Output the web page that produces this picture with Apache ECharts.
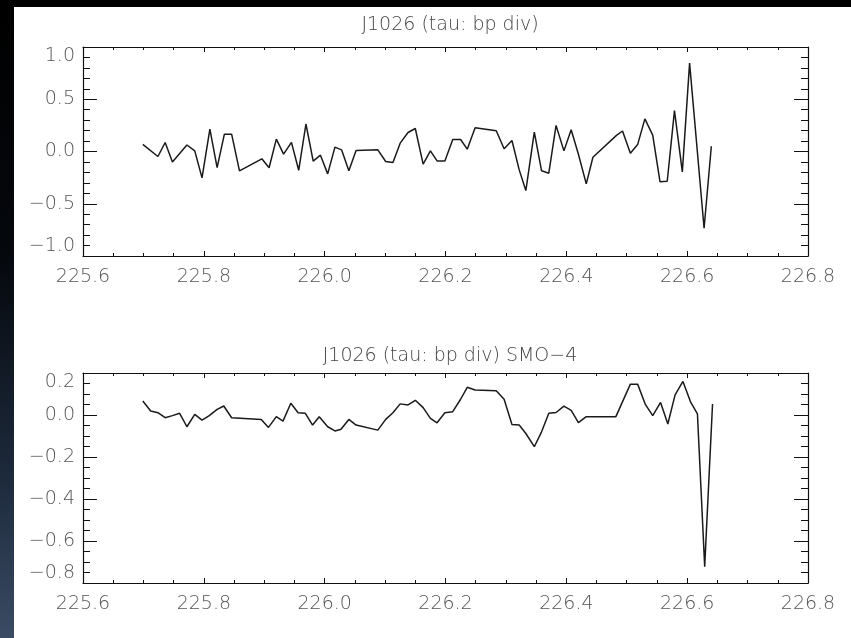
<!DOCTYPE html>
<html>
<head>
<meta charset="utf-8">
<script src="https://cdn.jsdelivr.net/npm/echarts@6/dist/echarts.min.js"></script>
<style>
  html, body { margin: 0; padding: 0; background: #000; }
  #strip { position: absolute; left: 0; top: 0; width: 14px; height: 638px;
           background: linear-gradient(to bottom, #000 0%, #05080d 40%, #1d2a3c 75%, #3a4b63 100%); }
  #paper { position: absolute; left: 14px; top: 7px; width: 837px; height: 631px; background: #fff; }
  #chart { position: absolute; left: 0; top: 0; width: 851px; height: 638px; }
</style>
</head>
<body>
<div id="strip"></div>
<div id="paper"></div>
<div id="chart"></div>
<script>
// tau: bp div (raw)
const rawX = [225.699, 225.724, 225.736, 225.748, 225.772, 225.785, 225.797, 225.810, 225.822, 225.834,
  225.846, 225.859, 225.896, 225.908, 225.920, 225.932, 225.945, 225.957, 225.969, 225.981,
  225.993, 226.005, 226.017, 226.028, 226.040, 226.052, 226.088, 226.101, 226.113, 226.125,
  226.138, 226.150, 226.163, 226.175, 226.186, 226.199, 226.212, 226.225, 226.236, 226.249,
  226.284, 226.297, 226.310, 226.322, 226.333, 226.347, 226.359, 226.371, 226.383, 226.396,
  226.408, 226.420, 226.433, 226.444, 226.483, 226.493, 226.506, 226.518, 226.530, 226.543,
  226.555, 226.567, 226.579, 226.592, 226.604, 226.628, 226.640]
const rawY = [0.068, -0.048, 0.086, -0.100, 0.062, 0.006, -0.252, 0.215, -0.155, 0.166,
  0.166, -0.186, -0.070, -0.155, 0.119, -0.025, 0.087, -0.180, 0.263, -0.092,
  -0.035, -0.214, 0.042, 0.016, -0.185, 0.010, 0.016, -0.096, -0.105, 0.080,
  0.182, 0.220, -0.120, 0.006, -0.090, -0.090, 0.115, 0.115, 0.022, 0.227,
  0.198, 0.026, 0.105, -0.176, -0.374, 0.185, -0.185, -0.208, 0.250, 0.006,
  0.208, -0.026, -0.310, -0.055, 0.154, 0.196, -0.016, 0.066, 0.312, 0.157,
  -0.289, -0.285, 0.391, -0.195, 0.846, -0.735, 0.050]

// SMO-4 smoothed
const smoX = [225.699, 225.712, 225.724, 225.736, 225.748, 225.760, 225.772, 225.785, 225.797, 225.809,
  225.822, 225.833, 225.846, 225.895, 225.907, 225.920, 225.931, 225.944, 225.956, 225.968,
  225.980, 225.991, 226.005, 226.017, 226.027, 226.040, 226.052, 226.088, 226.101, 226.113,
  226.125, 226.138, 226.150, 226.163, 226.175, 226.186, 226.199, 226.212, 226.225, 226.236,
  226.249, 226.284, 226.297, 226.310, 226.322, 226.333, 226.347, 226.359, 226.371, 226.383,
  226.396, 226.408, 226.420, 226.433, 226.482, 226.506, 226.518, 226.531, 226.543, 226.556,
  226.568, 226.580, 226.593, 226.606, 226.617, 226.629, 226.642]
const smoY = [0.067, 0.019, 0.011, -0.013, -0.003, 0.008, -0.056, 0.003, -0.024, -0.003,
  0.027, 0.043, -0.013, -0.021, -0.059, -0.008, -0.029, 0.056, 0.011, 0.008,
  -0.048, -0.008, -0.056, -0.076, -0.068, -0.021, -0.048, -0.072, -0.021, 0.011,
  0.053, 0.048, 0.070, 0.035, -0.016, -0.037, 0.011, 0.016, 0.075, 0.132,
  0.119, 0.116, 0.075, -0.045, -0.048, -0.088, -0.151, -0.080, 0.008, 0.012,
  0.042, 0.022, -0.036, -0.008, -0.008, 0.147, 0.147, 0.049, -0.003, 0.060,
  -0.043, 0.096, 0.160, 0.060, 0.005, -0.722, 0.052]

const titles = ['J1026 (tau: bp div)', 'J1026 (tau: bp div) SMO\u22124']
const xRange = [225.6, 226.8]
const yRanges = [[-1, 1], [-0.8, 0.2]]
const yIntervals = [0.5, 0.2]
const yMinorSplits = [5, 4]

const chart = echarts.init(document.getElementById('chart'))

const FONT = 'DejaVu Sans'
const fmt = v => v.toFixed(1).replace('-', '\u2212')
const axisLine = { show: true, onZero: false, lineStyle: { color: '#111', width: 1.2 } }

const xAxes = []
const yAxes = []
for (let g = 0; g < 2; g++) {
  for (const pos of ['bottom', 'top']) {
    xAxes.push({
      type: 'value', gridIndex: g, position: pos,
      min: xRange[0], max: xRange[1], interval: 0.2,
      axisLine,
      axisTick: { show: true, inside: true, length: 5, lineStyle: { color: '#111' } },
      minorTick: { show: true, splitNumber: 4, length: 3, lineStyle: { color: '#111' } },
      axisLabel: {
        show: pos === 'bottom', formatter: fmt, margin: 12,
        color: '#555', fontFamily: FONT, fontSize: 19, fontWeight: 200
      },
      splitLine: { show: false }
    })
  }
  for (const pos of ['left', 'right']) {
    yAxes.push({
      type: 'value', gridIndex: g, position: pos,
      min: yRanges[g][0], max: yRanges[g][1], interval: yIntervals[g],
      axisLine,
      axisTick: { show: true, inside: true, length: 14, lineStyle: { color: '#111' } },
      minorTick: { show: true, splitNumber: yMinorSplits[g], length: 7, lineStyle: { color: '#111' } },
      axisLabel: {
        show: pos === 'left', formatter: fmt, margin: 8,
        color: '#555', fontFamily: FONT, fontSize: 19, fontWeight: 200,
        verticalAlignMinLabel: 'bottom', verticalAlignMaxLabel: 'top'
      },
      splitLine: { show: false }
    })
  }
}

const toPairs = (xs, ys) => xs.map((x, i) => [x, ys[i]])

chart.setOption({
  animation: false,
  title: [
    { text: titles[0], left: 445, top: 11, textAlign: 'center',
      textStyle: { color: '#444', fontFamily: FONT, fontSize: 19, fontWeight: 200 } },
    { text: titles[1], left: 445, top: 342, textAlign: 'center',
      textStyle: { color: '#444', fontFamily: FONT, fontSize: 19, fontWeight: 200 } }
  ],
  grid: [
    { left: 83, top: 47, width: 725, height: 209 },
    { left: 83, top: 373, width: 725, height: 210 }
  ],
  xAxis: xAxes,
  yAxis: yAxes,
  series: [
    {
      type: 'line', xAxisIndex: 0, yAxisIndex: 0,
      data: toPairs(rawX, rawY),
      showSymbol: false,
      lineStyle: { color: '#1a1a1a', width: 1.5 }
    },
    {
      type: 'line', xAxisIndex: 2, yAxisIndex: 2,
      data: toPairs(smoX, smoY),
      showSymbol: false,
      lineStyle: { color: '#1a1a1a', width: 1.5 }
    }
  ]
})
</script>
</body>
</html>
